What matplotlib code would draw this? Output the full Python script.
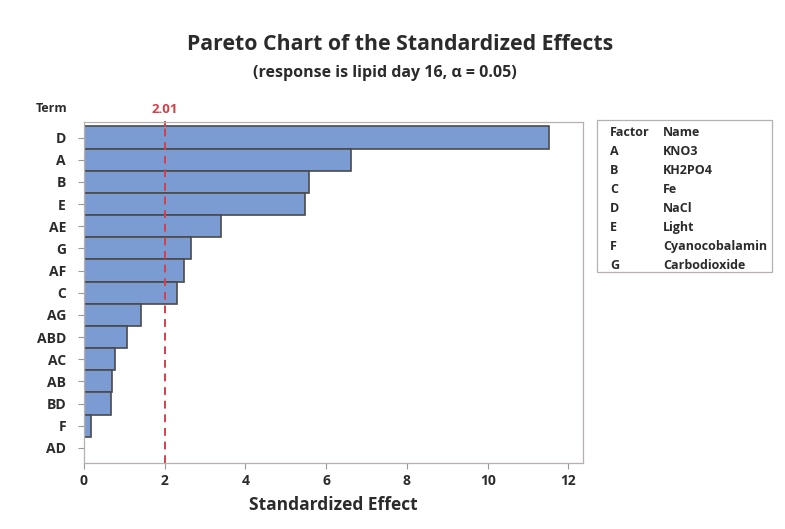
import matplotlib.pyplot as plt
import numpy as np

# Pareto chart of standardized effects
terms = ['D', 'A', 'B', 'E', 'AE', 'G', 'AF', 'C', 'AG', 'ABD', 'AC', 'AB', 'BD', 'F', 'AD']
effects = [11.53, 6.61, 5.57, 5.47, 3.39, 2.65, 2.48, 2.30, 1.41, 1.06, 0.77, 0.69, 0.67, 0.17, 0.01]
cutoff = 2.01
x_ticks = [0, 2, 4, 6, 8, 10, 12]

factors = ['A', 'B', 'C', 'D', 'E', 'F', 'G']
names = ['KNO3', 'KH2PO4', 'Fe', 'NaCl', 'Light', 'Cyanocobalamin', 'Carbodioxide']

plt.rcParams['font.family'] = ['Open Sans', 'DejaVu Sans']
W, H = 785, 529
fig = plt.figure(figsize=(W / 100, H / 100), dpi=100)
fig.patch.set_facecolor('white')

text_col = '#2b2b2b'
bar_col = '#7b9bd3'
red = '#d2404c'
frame_col = '#b8b0b0'

ax = fig.add_axes([84 / W, 1 - 463 / H, (583 - 84) / W, (463 - 122) / H])
y = np.arange(len(terms))
ax.barh(y, effects, height=1.0, color=bar_col, edgecolor='#4a4a4a', linewidth=1.2)
ax.set_ylim(len(terms) - 1 + 0.68, -0.7)
ax.set_xlim(0, 12.36)

ax.axvline(cutoff, color=red, linestyle=(0, (4, 3)), linewidth=1.4)
ax.text(cutoff, -0.95, f'{cutoff:.2f}', color=red, ha='center', va='bottom',
        fontsize=9.5, fontweight='bold')
ax.plot([cutoff, cutoff], [-0.7, -0.5], color=red, linewidth=1.4, clip_on=False)

ax.set_yticks(y)
ax.set_yticklabels(terms, fontsize=10, fontweight='bold', color=text_col)
ax.set_xticks(x_ticks)
ax.set_xticklabels([str(t) for t in x_ticks], fontsize=10, fontweight='bold', color=text_col)
ax.tick_params(axis='both', color='#999999', length=4, width=0.8)
ax.tick_params(axis='y', pad=9)
ax.tick_params(axis='x', pad=4)
for s in ax.spines.values():
    s.set_color(frame_col)
    s.set_linewidth(0.9)

ax.set_xlabel('Standardized Effect', fontsize=12.5, fontweight='bold', color=text_col, labelpad=6)
fig.text(36 / W, 1 - 108 / H, 'Term', fontsize=9, fontweight='bold', color=text_col,
         ha='left', va='center')

# Titles
fig.text(0.51, 1 - 45 / H, 'Pareto Chart of the Standardized Effects', fontsize=15.3,
         fontweight='bold', color=text_col, ha='center', va='center')
fig.text(0.49, 1 - 73 / H, '(response is lipid day 16, \u03b1 = 0.05)', fontsize=11.5,
         fontweight='bold', color=text_col, ha='center', va='center')

# Factor legend box
lx0, lx1, ly0, ly1 = 597, 772, 120, 272
fig.patches.append(plt.Rectangle((lx0 / W, 1 - ly1 / H), (lx1 - lx0) / W, (ly1 - ly0) / H,
                                 transform=fig.transFigure, facecolor='white',
                                 edgecolor=frame_col, linewidth=0.9))
rows = [('Factor', 'Name')] + list(zip(factors, names))
for i, (f, n) in enumerate(rows):
    yy = 1 - (133 + i * 18.9) / H
    fig.text(610 / W, yy, f, fontsize=9, fontweight='bold', color=text_col, va='center')
    fig.text(663 / W, yy, n, fontsize=9, fontweight='bold', color=text_col, va='center')

fig.savefig('out.png', dpi=100, facecolor='white')
